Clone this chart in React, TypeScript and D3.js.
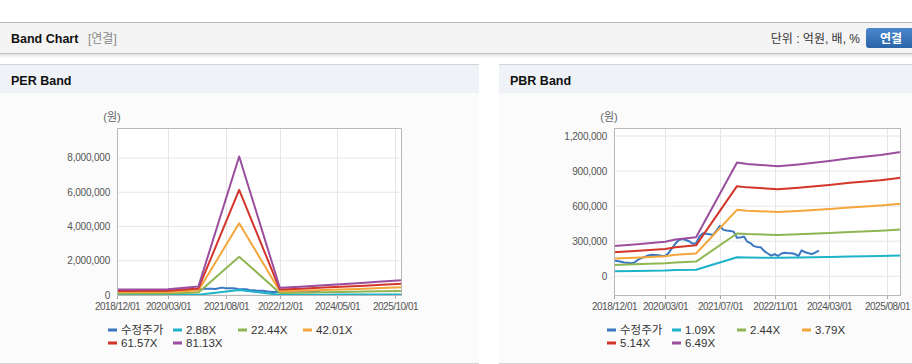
import React from 'react';
import * as d3 from 'd3';

const W = 912;
const H = 364;

// ---------- DATA ----------
const seriesNamesPER = ['수정주가', '2.88X', '22.44X', '42.01X', '61.57X', '81.13X'];
const seriesNamesPBR = ['수정주가', '1.09X', '2.44X', '3.79X', '5.14X', '6.49X'];
const seriesColors = ['#3a77c2', '#1db3c8', '#8fb652', '#f3a63b', '#d3352b', '#9a4e9d'];

// adjusted stock price, monthly from 2018/12/01
const priceStart = '2018-12-01';
const priceMonthly = [
  134000, 130000, 125000, 118000, 115000, 112000, 118000, 140000, 155000, 165000,
  178000, 185000, 183000, 180000, 176000, 174000, 200000, 240000, 280000, 310000,
  318000, 310000, 300000, 278000, 283000, 340000, 369000, 363000, 360000, 354000,
  390000, 431000, 397000, 392000, 388000, 382000, 330000, 331000, 340000, 297000,
  283000, 258000, 250000, 248000, 215000, 195000, 177000, 189000, 174000, 195000,
  202000, 198000, 197000, 190000, 174000, 222000, 205000, 197000, 190000, 205000,
  219000,
];

// PER band
const perDates = ['2018-12-01', '2020-03-01', '2020-12-01', '2021-12-01', '2022-12-01', '2023-06-01', '2024-01-01', '2024-06-01', '2025-01-01', '2025-06-01', '2025-12-01'];
const per288 = [11200, 11800, 17900, 287100, 15000, 17300, 20200, 22500, 25300, 27900, 30500];
const per2244 = [87500, 92000, 139100, 2237300, 116700, 134600, 157100, 175000, 197500, 217700, 237900];
const per4201 = [163800, 172200, 260500, 4188400, 218500, 252100, 294100, 327700, 369700, 407500, 445300];
const per6157 = [240100, 252400, 381700, 6138500, 320200, 369400, 431000, 480200, 541800, 597200, 652600];
const per8113 = [316400, 332600, 503000, 8088700, 421900, 486800, 567900, 632800, 713900, 787000, 860000];
const perYTicks = [0, 2000000, 4000000, 6000000, 8000000];
const perXTicks = ['2018-12-01', '2020-03-01', '2021-08-01', '2022-12-01', '2024-05-01', '2025-10-01'];

// PBR band
const pbrDates = ['2018-12-01', '2019-06-01', '2020-03-01', '2020-06-01', '2020-12-01', '2021-12-01', '2022-03-01', '2022-12-01', '2023-06-01', '2024-03-01', '2024-09-01', '2025-06-01', '2025-12-01'];
const pbr109 = [43600, 45800, 49600, 52900, 56100, 163500, 161300, 158000, 160800, 165700, 169500, 174400, 178800];
const pbr244 = [97600, 102500, 111000, 118300, 125700, 366000, 361100, 353800, 359900, 370900, 379400, 390400, 400200];
const pbr379 = [151600, 159200, 172400, 183800, 195200, 568500, 560900, 549600, 559000, 576100, 589300, 606400, 621600];
const pbr514 = [205600, 215900, 233900, 249300, 264700, 771000, 760700, 745300, 758200, 781300, 799300, 822400, 843000];
const pbr649 = [259600, 272600, 295300, 314800, 334200, 973500, 960500, 941100, 957300, 986500, 1009200, 1038400, 1064400];
const pbrYTicks = [0, 300000, 600000, 900000, 1200000];
const pbrXTicks = ['2018-12-01', '2020-03-01', '2021-07-01', '2022-11-01', '2024-03-01', '2025-08-01'];

const xDomain = ['2018-12-01', '2025-12-01'];

// ---------- helpers ----------
const parse = d3.timeParse('%Y-%m-%d');
const fmtTick = d3.timeFormat('%Y/%m/%d');
const fmtNum = d3.format(',');

type Pt = { d: Date; v: number };

const priceData: Pt[] = priceMonthly.map((v, i) => ({ d: d3.timeMonth.offset(parse(priceStart)!, i), v }));
const toPts = (dates: string[], vals: number[]): Pt[] => vals.map((v, i) => ({ d: parse(dates[i])!, v }));

const perSeries = [priceData, toPts(perDates, per288), toPts(perDates, per2244), toPts(perDates, per4201), toPts(perDates, per6157), toPts(perDates, per8113)];
const pbrSeries = [priceData, toPts(pbrDates, pbr109), toPts(pbrDates, pbr244), toPts(pbrDates, pbr379), toPts(pbrDates, pbr514), toPts(pbrDates, pbr649)];

const FONT = "'Liberation Sans', Arial, 'Noto Sans CJK KR', sans-serif";

type ChartProps = {
  id: string;
  left: number; right: number; top: number; bottom: number;
  yDomain: [number, number];
  yTicks: number[];
  xTicks: string[];
  series: Pt[][];
  names: string[];
  legendX: number;
  showBottomBorder: boolean;
};

function BandChart(p: ChartProps) {
  const x = d3.scaleTime().domain(xDomain.map((s) => parse(s)!) as [Date, Date]).range([p.left, p.right]);
  const y = d3.scaleLinear().domain(p.yDomain).range([p.bottom, p.top]);
  const line = d3.line<Pt>().x((d) => x(d.d)).y((d) => y(d.v));
  const colW = 65;
  return (
    <g>
      <defs>
        <clipPath id={p.id + '-clip'}>
          <rect x={p.left} y={p.top} width={p.right - p.left} height={p.bottom - p.top} />
        </clipPath>
      </defs>
      <rect x={p.left} y={p.top} width={p.right - p.left} height={p.bottom - p.top} fill="#ffffff" />
      {p.yTicks.map((t) => (
        <g key={'y' + t}>
          <line x1={p.left} x2={p.right} y1={y(t)} y2={y(t)} stroke="#e6e6e6" strokeWidth={1} />
          <text x={p.left - 7} y={y(t) + 3.5} textAnchor="end" fontSize={10} fill="#555" fontFamily={FONT} letterSpacing={-0.2}>
            {fmtNum(t)}
          </text>
        </g>
      ))}
      {p.xTicks.map((t) => {
        const xx = Math.round(x(parse(t)!)) + 0.5;
        return (
          <g key={'x' + t}>
            <line x1={xx} x2={xx} y1={p.top} y2={p.bottom} stroke="#e6e6e6" strokeWidth={1} />
            <line x1={xx} x2={xx} y1={p.bottom} y2={p.bottom + 4} stroke="#aaa" strokeWidth={1} />
            <text x={xx} y={p.bottom + 15} textAnchor="middle" fontSize={10} fill="#555" fontFamily={FONT} letterSpacing={-0.5}>
              {fmtTick(parse(t)!)}
            </text>
          </g>
        );
      })}
      <text x={p.left - 5} y={p.top - 7} textAnchor="middle" fontSize={11} fill="#666" fontFamily={FONT}>
        (원)
      </text>
      <g clipPath={`url(#${p.id}-clip)`}>
        {p.series.map((s, i) => (
          <path key={i} d={line(s) || ''} fill="none" stroke={seriesColors[i]} strokeWidth={2} strokeLinejoin="round" />
        ))}
      </g>
      <path
        d={`M${p.left + 0.5},${p.bottom}V${p.top + 0.5}H${p.right - 0.5}V${p.bottom}`}
        fill="none"
        stroke="#b8b8b8"
        strokeWidth={1}
      />
      {p.showBottomBorder && (
        <line x1={p.left} x2={p.right} y1={p.bottom + 0.5} y2={p.bottom + 0.5} stroke="#b8b8b8" />
      )}
      {!p.showBottomBorder && (
        <line x1={p.left} x2={p.right} y1={y(0) + 0.5} y2={y(0) + 0.5} stroke="#b8b8b8" />
      )}
      {p.names.map((n, i) => {
        const row = i < 4 ? 0 : 1;
        const col = i < 4 ? i : i - 4;
        const lx = p.legendX + col * colW;
        const ly = row === 0 ? 330 : 343;
        return (
          <g key={n}>
            <rect x={lx} y={ly - 1.5} width={9} height={3} fill={seriesColors[i]} />
            <text x={lx + 13} y={ly + 4} fontSize={11.5} fill="#333" fontFamily={FONT}>
              {n}
            </text>
          </g>
        );
      })}
    </g>
  );
}

export default function App() {
  return (
    <div style={{ position: 'fixed', left: 0, top: 0, width: W, height: H, background: '#fff' }}>
      <svg width={W} height={H} style={{ display: 'block' }}>
        <defs>
          <linearGradient id="btn" x1="0" x2="0" y1="0" y2="1">
            <stop offset="0" stopColor="#4a88cc" />
            <stop offset="1" stopColor="#2a63a8" />
          </linearGradient>
          <linearGradient id="shadow" x1="0" x2="0" y1="0" y2="1">
            <stop offset="0" stopColor="#000" stopOpacity={0.12} />
            <stop offset="1" stopColor="#000" stopOpacity={0} />
          </linearGradient>
        </defs>
        <rect x={0} y={0} width={W} height={H} fill="#fff" />
        {/* top header bar */}
        <rect x={0} y={22} width={W} height={31} fill="#f4f4f4" />
        <line x1={0} x2={W} y1={22.5} y2={22.5} stroke="#b5b5b5" />
        <line x1={0} x2={W} y1={53.5} y2={53.5} stroke="#c4c4c4" />
        <rect x={0} y={54} width={W} height={4} fill="url(#shadow)" />
        <text x={11} y={43} fontSize={12.5} fontWeight="bold" fill="#111" fontFamily={FONT}>
          Band Chart
        </text>
        <text x={88} y={43} fontSize={12} fill="#8a8a8a" fontFamily={FONT}>
          [연결]
        </text>
        <text x={860} y={43} textAnchor="end" fontSize={12} fill="#333" fontFamily={FONT}>
          단위 : 억원, 배, %
        </text>
        <rect x={866} y={28} width={52} height={20} rx={3} fill="url(#btn)" />
        <text x={891} y={42.5} textAnchor="middle" fontSize={12} fontWeight="bold" fill="#fff" fontFamily={FONT}>
          연결
        </text>

        {/* panels */}
        {[
          { x: 0, w: 479, title: 'PER Band' },
          { x: 499, w: W - 499, title: 'PBR Band' },
        ].map((pn) => (
          <g key={pn.title}>
            <rect x={pn.x} y={64} width={pn.w} height={29} fill="#eff2f7" />
            <rect x={pn.x} y={93} width={pn.w} height={270} fill="#fbfbfb" />
            <line x1={pn.x} x2={pn.x + pn.w} y1={64.5} y2={64.5} stroke="#d4d4d4" />
            <line x1={pn.x} x2={pn.x + pn.w} y1={363.5} y2={363.5} stroke="#d4d4d4" />
            <text x={pn.x + 11} y={85} fontSize={12.5} fontWeight="bold" fill="#111" fontFamily={FONT}>
              {pn.title}
            </text>
          </g>
        ))}

        <BandChart
          id="per"
          left={117}
          right={402}
          top={128}
          bottom={295}
          yDomain={[0, 9750000]}
          yTicks={perYTicks}
          xTicks={perXTicks}
          series={perSeries}
          names={seriesNamesPER}
          legendX={108}
          showBottomBorder={false}
        />
        <BandChart
          id="pbr"
          left={614}
          right={901}
          top={128}
          bottom={295}
          yDomain={[-160000, 1268600]}
          yTicks={pbrYTicks}
          xTicks={pbrXTicks}
          series={pbrSeries}
          names={seriesNamesPBR}
          legendX={607}
          showBottomBorder={true}
        />
      </svg>
    </div>
  );
}
